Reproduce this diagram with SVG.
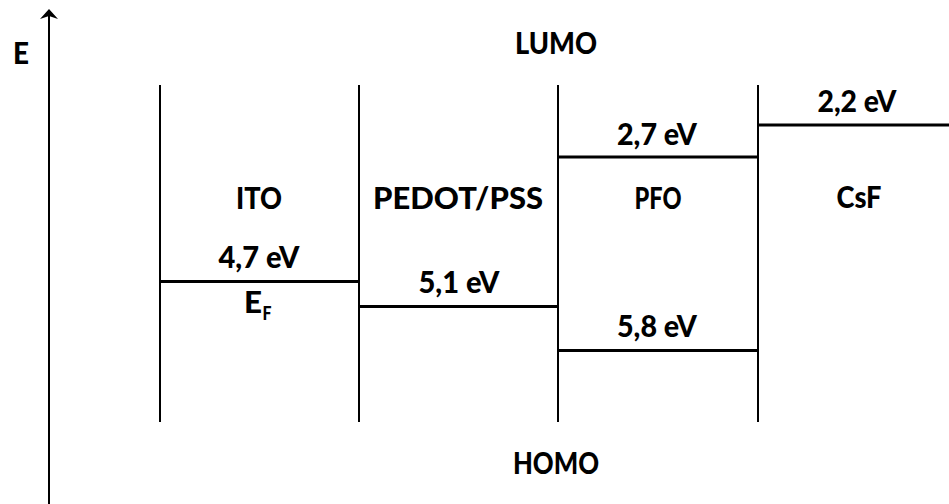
<svg xmlns="http://www.w3.org/2000/svg" width="949" height="504" viewBox="0 0 949 504">
<style>
text{font-family:Lato,"Liberation Sans",Arial,sans-serif;font-weight:900;font-size:31px;fill:#000;text-anchor:middle}
.v{stroke:#000;stroke-width:2;fill:none}
.h{stroke:#000;stroke-width:3;fill:none}
</style>
<rect width="949" height="504" fill="#fff"/>
<g id="axis">
<line class="v" x1="49" y1="504" x2="49" y2="14"/>
<path d="M49,9 L58,19 L49,16 L40,19 Z" fill="#000"/>
<text x="21" y="64" textLength="16" lengthAdjust="spacingAndGlyphs">E</text>
</g>
<g id="connectors">
<line class="v" x1="160" y1="85" x2="160" y2="422"/>
<line class="v" x1="359" y1="85" x2="359" y2="422"/>
<line class="v" x1="558" y1="85" x2="558" y2="422"/>
<line class="v" x1="758" y1="85" x2="758" y2="422"/>
</g>
<g id="labels">
<text x="556" y="54" textLength="82" lengthAdjust="spacingAndGlyphs">LUMO</text>
<text x="556" y="474" textLength="86" lengthAdjust="spacingAndGlyphs">HOMO</text>
</g>
<g id="ITO">
<text x="259" y="209" textLength="46" lengthAdjust="spacingAndGlyphs">ITO</text>
<line class="h" x1="160" y1="281.5" x2="359" y2="281.5"/>
<text x="259" y="268" textLength="81" lengthAdjust="spacingAndGlyphs">4,7 eV</text>
<text x="253" y="313" textLength="18" lengthAdjust="spacingAndGlyphs">E</text>
<text x="267" y="320" style="font-size:18px" textLength="9" lengthAdjust="spacingAndGlyphs">F</text>
</g>
<g id="PEDOT">
<text x="458" y="209" textLength="170" lengthAdjust="spacingAndGlyphs">PEDOT/PSS</text>
<line class="h" x1="359" y1="306.5" x2="558" y2="306.5"/>
<text x="459" y="293" textLength="81" lengthAdjust="spacingAndGlyphs">5,1 eV</text>
</g>
<g id="PFO">
<text x="658" y="209" textLength="47" lengthAdjust="spacingAndGlyphs">PFO</text>
<line class="h" x1="558" y1="157" x2="758" y2="157"/>
<text x="657" y="145" textLength="80" lengthAdjust="spacingAndGlyphs">2,7 eV</text>
<line class="h" x1="558" y1="350.5" x2="758" y2="350.5"/>
<text x="657" y="337" textLength="80" lengthAdjust="spacingAndGlyphs">5,8 eV</text>
</g>
<g id="CsF">
<text x="859" y="208" textLength="45" lengthAdjust="spacingAndGlyphs">CsF</text>
<line class="h" x1="758" y1="125" x2="949" y2="125"/>
<text x="857" y="112" textLength="79" lengthAdjust="spacingAndGlyphs">2,2 eV</text>
</g>
</svg>
